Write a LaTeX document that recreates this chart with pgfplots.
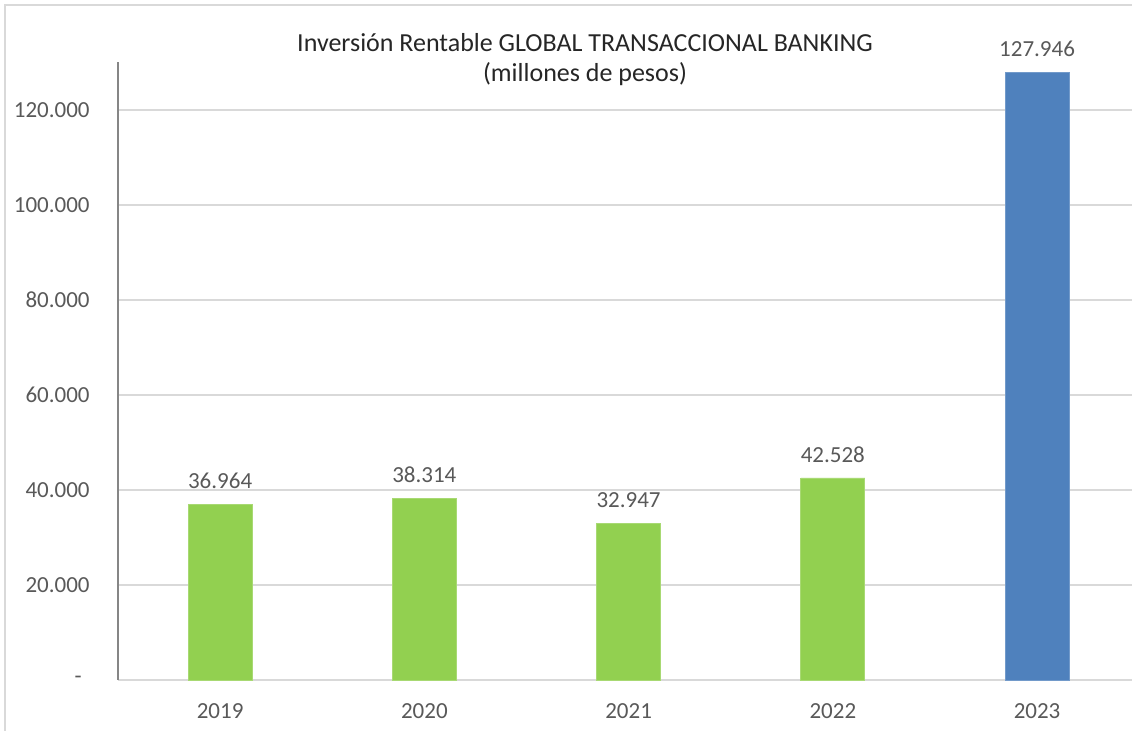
\documentclass[border=0pt]{standalone}
\usepackage{fontspec}
\setmainfont{Carlito}
\usepackage{pgfplots}
\pgfplotsset{compat=1.18}
\definecolor{barG}{HTML}{92D050}
\definecolor{barB}{HTML}{4F81BD}
\definecolor{gridc}{HTML}{D9D9D9}
\definecolor{axgray}{HTML}{868686}
\definecolor{txt}{HTML}{595959}
\begin{document}
\begin{tikzpicture}
\useasboundingbox (0pt,0pt) rectangle (566pt,-365.5pt);
\clip (0pt,0pt) rectangle (566pt,-365.5pt);
\fill[white] (0pt,0pt) rectangle (566pt,-365.5pt);
\draw[gridc, line width=1pt] (2.5pt,-366pt) -- (2.5pt,-2.5pt) -- (567pt,-2.5pt);
\begin{axis}[
  at={(59pt,-340pt)}, anchor=south west,
  scale only axis, width=510.6pt, height=308.75pt,
  xmin=-0.5, xmax=4.5, ymin=0, ymax=130000,
  scaled y ticks=false,
  xtick={0,1,2,3,4}, xticklabels={2019,2020,2021,2022,2023},
  ytick={0,20000,40000,60000,80000,100000,120000},
  yticklabels={-\rule{4pt}{0pt},20.000,40.000,60.000,80.000,100.000,120.000},
  ymajorgrids, grid style={draw=gridc, line width=0.75pt},
  axis x line*=bottom, axis y line*=left,
  x axis line style={-, draw=gridc, line width=1pt},
  y axis line style={-, draw=axgray, line width=1pt},
  major tick length=0pt, tick style={draw=none},
  ticklabel style={font=\fontsize{11.5}{13}\selectfont, text=txt},
  xticklabel style={inner sep=0pt, anchor=north, yshift=-11.5pt},
  yticklabel style={inner sep=0pt, anchor=east, xshift=-14pt},
  ybar, bar width=32pt,
  /pgf/number format/.cd, fixed, precision=0, 1000 sep={.}, assume math mode=true,
  /pgfplots/.cd,
  nodes near coords,
  nodes near coords style={font=\fontsize{11.5}{13}\selectfont, text=txt, anchor=south, inner sep=0pt, yshift=7.5pt},
  clip=false,
]
\addplot[fill=barG, draw=barG!80!white, bar shift=0pt] coordinates {(0,36964) (1,38314) (2,32947) (3,42528)};
\addplot[fill=barB, draw=barB!80!white, bar shift=0pt] coordinates {(4,127946)};
\end{axis}
\node[font=\fontsize{13}{15}\selectfont, text=black!85, align=center] at (292.5pt,-30pt) {Inversión Rentable GLOBAL TRANSACCIONAL BANKING\\(millones de pesos)};
\end{tikzpicture}
\end{document}
